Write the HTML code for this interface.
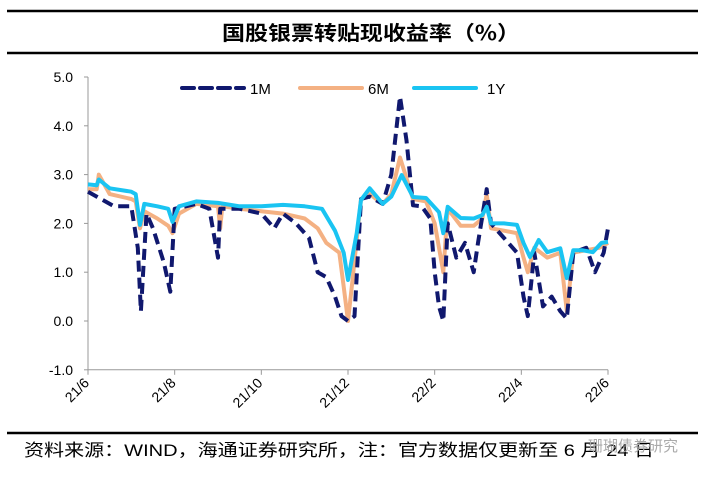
<!DOCTYPE html>
<html><head><meta charset="utf-8"><style>
body{margin:0;width:704px;height:474px;background:#fff;overflow:hidden;font-family:"Liberation Sans","Noto Sans CJK SC",sans-serif}
</style></head><body>
<svg id="c" width="704" height="474" xmlns="http://www.w3.org/2000/svg">
<line x1="7" y1="11" x2="698" y2="11" stroke="#000" stroke-width="2.5"/>
<line x1="7" y1="53" x2="698" y2="53" stroke="#000" stroke-width="2.5"/>
<text x="222" y="40" textLength="298" lengthAdjust="spacingAndGlyphs" font-family="'Noto Sans CJK SC',sans-serif" font-weight="bold" font-size="20">国股银票转贴现收益率（%）</text>
<line x1="7" y1="433" x2="698" y2="433" stroke="#000" stroke-width="2.5"/>
<text x="24" y="456" font-size="17" textLength="630" lengthAdjust="spacingAndGlyphs" font-family="'Liberation Sans','Noto Sans CJK SC',sans-serif">资料来源：WIND，海通证券研究所，注：官方数据仅更新至 6 月 24 日</text>
<text x="588" y="451" font-size="15" fill="#aaa" font-family="'Noto Sans CJK SC',sans-serif">珊瑚债券研究</text>
<g id="legend">
<line x1="182" y1="88" x2="244" y2="88" stroke="#10186e" stroke-width="4" stroke-dasharray="12,6" stroke-linecap="round"/>
<text x="250" y="94" font-size="15">1M</text>
<line x1="300" y1="88" x2="362" y2="88" stroke="#f4b183" stroke-width="4" stroke-linecap="round"/>
<text x="368" y="94" font-size="15">6M</text>
<line x1="414" y1="88" x2="476" y2="88" stroke="#1ac4f2" stroke-width="4" stroke-linecap="round"/>
<text x="487" y="94" font-size="15">1Y</text>
</g>
</svg>
<script>
const yTicks=[5,4,3,2,1,0,-1];
const yTickLabels=["5.0","4.0","3.0","2.0","1.0","0.0","-1.0"];
const xTicks=[0,2,4,6,8,10,12];
const xTickLabels=["21/6","21/8","21/10","21/12","22/2","22/4","22/6"];
const t1y=[0,0.2,0.25,0.5,1,1.1,1.2,1.3,1.6,1.85,1.95,2.1,2.5,3,3.5,4,4.5,5,5.4,5.7,5.9,6.0,6.2,6.3,6.5,6.8,7.0,7.24,7.5,7.8,8.1,8.2,8.3,8.6,8.9,9.1,9.2,9.3,9.6,9.9,10.05,10.2,10.4,10.6,10.9,11.05,11.2,11.4,11.65,11.85,12];
const v1y=[2.8,2.78,2.9,2.72,2.65,2.6,1.97,2.4,2.35,2.3,2.03,2.35,2.45,2.42,2.35,2.35,2.38,2.35,2.3,1.85,1.4,0.84,1.8,2.48,2.72,2.4,2.55,2.99,2.54,2.52,2.23,1.8,2.34,2.11,2.1,2.17,2.34,2.0,2.0,1.97,1.6,1.31,1.66,1.41,1.49,0.88,1.45,1.45,1.41,1.6,1.62];
const t6m=[0,0.2,0.25,0.5,1,1.1,1.2,1.3,1.6,1.85,1.95,2.1,2.5,3,3.05,3.1,3.5,4,4.5,5,5.3,5.5,5.8,5.9,6.0,6.1,6.3,6.5,6.8,7.0,7.2,7.5,7.8,8.0,8.2,8.3,8.6,8.9,9.1,9.2,9.3,9.6,9.9,10.05,10.15,10.3,10.6,10.9,11.05,11.2,11.5,11.8,12];
const v6m=[2.7,2.7,3.0,2.6,2.5,2.45,1.9,2.25,2.1,1.95,1.8,2.2,2.4,2.35,1.9,2.35,2.3,2.25,2.2,2.1,1.9,1.6,1.4,0.7,0.0,0.8,2.5,2.6,2.4,2.6,3.35,2.5,2.45,2.0,1.0,2.3,1.95,1.95,2.1,2.6,1.9,1.85,1.8,1.3,1.0,1.5,1.3,1.4,0.2,1.4,1.45,1.5,1.6];
const t1m=[0,0.3,0.6,1,1.15,1.22,1.35,1.5,1.75,1.9,2.0,2.5,2.8,3.0,3.05,3.5,4,4.3,4.5,4.8,5.1,5.3,5.5,5.7,5.85,6.0,6.15,6.3,6.5,6.8,7.0,7.2,7.35,7.5,7.7,7.9,8.0,8.1,8.2,8.3,8.5,8.7,8.9,9.0,9.2,9.3,9.6,9.9,10.05,10.15,10.3,10.5,10.7,10.9,11.05,11.2,11.5,11.7,11.9,12];
const v1m=[2.65,2.5,2.35,2.35,1.5,0.2,2.2,1.9,1.2,0.6,2.3,2.4,2.3,1.3,2.3,2.3,2.2,1.9,2.2,2.0,1.7,1.0,0.9,0.5,0.1,0.0,0.1,2.5,2.55,2.4,3.0,4.6,3.7,2.37,2.35,2.1,1.0,0.3,0.0,2.0,1.3,1.6,1.0,1.6,2.7,2.0,1.7,1.4,0.5,0.1,1.4,0.3,0.5,0.2,0.05,1.4,1.5,1.0,1.4,1.9];
const X0=88,X1=608,Y0=321,PU=48.8;
const xs=t=>X0+(X1-X0)*t/12;
const ys=v=>Y0-v*PU;
const svg=document.getElementById('c');
const NS="http://www.w3.org/2000/svg";
function mk(tag,attrs){const e=document.createElementNS(NS,tag);for(const k in attrs)e.setAttribute(k,attrs[k]);svg.appendChild(e);return e;}
let e=mk('line',{x1:X0,y1:ys(5),x2:X0,y2:ys(-1),stroke:'#999','stroke-width':1});


e=mk('line',{x1:X0,y1:ys(-1),x2:X1,y2:ys(-1),stroke:'#999','stroke-width':1});


yTicks.forEach((v,i)=>{
  let t=mk('line',{x1:X0-4,y1:ys(v),x2:X0,y2:ys(v),stroke:'#999'});
  
  
  let l=mk('text',{x:X0-15,y:ys(v)+5,'text-anchor':'end','font-size':14});
  l.textContent=yTickLabels[i];
  
  
});
xTicks.forEach((m,i)=>{
  const x=xs(m),y=ys(-1);
  let t=mk('line',{x1:x,y1:y,x2:x,y2:y+5,stroke:'#999'});
  
  
  let l=mk('text',{x:x+2,y:y+14,'text-anchor':'end','font-size':14,transform:`rotate(-45 ${x+2} ${y+14})`});
  l.textContent=xTickLabels[i];
  
  
});
function series(ts,vs,attrs,name){
  const d=ts.map((t,i)=>(i?'L':'M')+xs(t).toFixed(1)+','+ys(vs[i]).toFixed(1)).join('');
  const p=mk('path',Object.assign({d:d,fill:'none','stroke-width':4,'stroke-linejoin':'round'},attrs));
  
  
}
series(t6m,v6m,{stroke:'#f4b183'},'series-6m-line');
series(t1m,v1m,{stroke:'#10186e','stroke-dasharray':'11,6'},'series-1m-line');
series(t1y,v1y,{stroke:'#1ac4f2'},'series-1y-line');
</script>
</body></html>
